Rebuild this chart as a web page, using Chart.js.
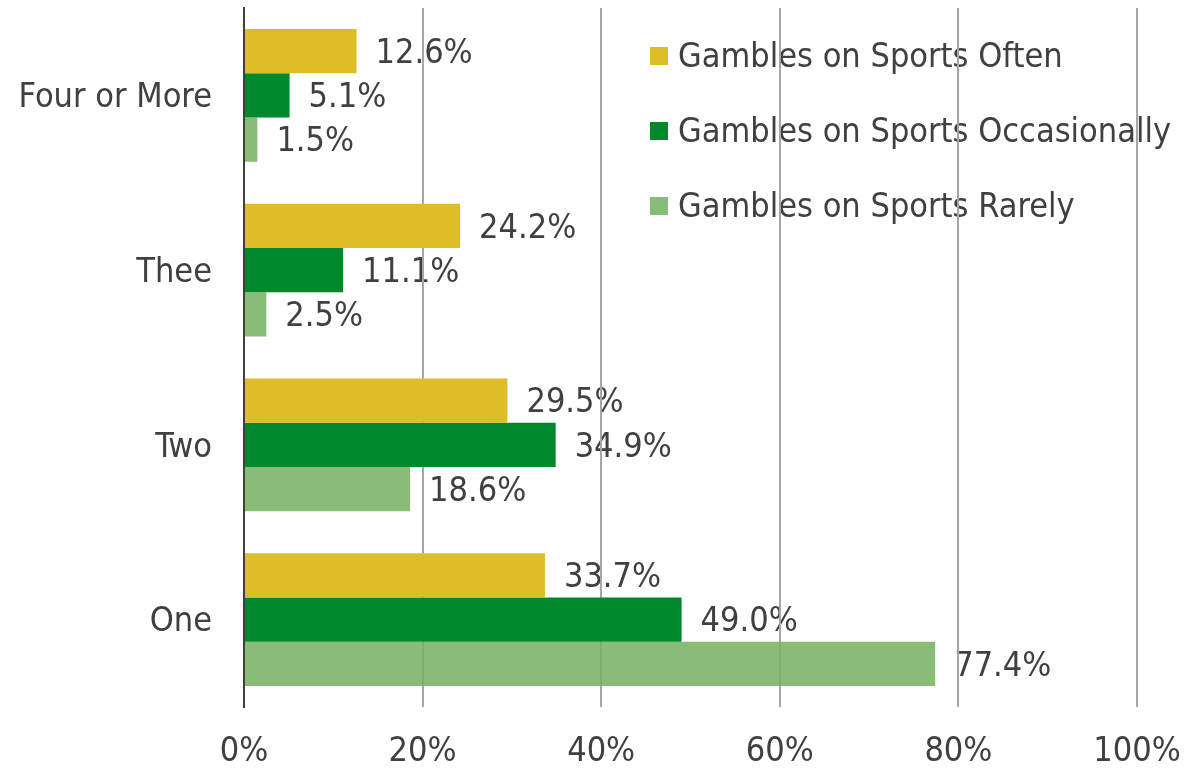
<!DOCTYPE html>
<html>
<head>
<meta charset="utf-8">
<script src="https://cdn.jsdelivr.net/npm/chart.js@4.4.1/dist/chart.umd.min.js"></script>
<style>
  html, body { margin: 0; padding: 0; background: #fff; }
  #wrap { width: 1186px; height: 770px; }
</style>
</head>
<body>
<div id="wrap"><canvas id="barChart"></canvas></div>
<script>
const categories = ['Four or More', 'Thee', 'Two', 'One'];
const seriesNames = ['Gambles on Sports Often', 'Gambles on Sports Occasionally', 'Gambles on Sports Rarely'];
const often = [12.6, 24.2, 29.5, 33.7];
const occasionally = [5.1, 11.1, 34.9, 49.0];
const rarely = [1.5, 2.5, 18.6, 77.4];
const xTicks = [0, 20, 40, 60, 80, 100];

const FONT = '"DejaVu Sans Condensed", "DejaVu Sans", sans-serif';
const FONT_SIZE = 34;
const TEXT = '#404040';

// labels + legend are painted before the grid, like the original (grid runs over the text)
const underlayPlugin = {
    id: 'underlay',
    beforeDraw(chart) {
        const ctx = chart.ctx;
        ctx.save();
        ctx.font = FONT_SIZE + 'px ' + FONT;
        ctx.fillStyle = TEXT;
        ctx.textBaseline = 'middle';
        ctx.textAlign = 'left';
        chart.data.datasets.forEach((ds, i) => {
            chart.getDatasetMeta(i).data.forEach((bar, j) => {
                ctx.fillText(ds.data[j].toFixed(1) + '%', bar.x + 19, bar.y + 3);
            });
        });

        // legend in the upper right of the plot
        chart.data.datasets.forEach((ds, i) => {
            const y = 56 + i * 75;
            ctx.fillStyle = ds.backgroundColor;
            ctx.fillRect(650, y - 9, 18, 18);
            ctx.fillStyle = TEXT;
            ctx.fillText(ds.label, 678, y + 2);
        });
        ctx.restore();
    }
};

new Chart(document.getElementById('barChart'), {
    type: 'bar',
    data: {
        labels: categories,
        datasets: [{
            label: seriesNames[0],
            data: often,
            backgroundColor: '#DDBE26'
        },
        {
            label: seriesNames[1],
            data: occasionally,
            backgroundColor: '#00882C'
        },
        {
            label: seriesNames[2],
            data: rarely,
            backgroundColor: 'rgba(116, 178, 95, 0.85)'
        }]
    },
    options: {
        indexAxis: 'y',
        responsive: true,
        maintainAspectRatio: false,
        animation: false,
        barPercentage: 1,
        categoryPercentage: 0.76,
        layout: {
            padding: { left: 0, top: 8, right: 49, bottom: 0 }
        },
        plugins: {
            legend: { display: false },
            tooltip: { enabled: false }
        },
        scales: {
            x: {
                min: 0,
                max: 100,
                afterBuildTicks: (axis) => {
                    axis.ticks = xTicks.map(v => ({ value: v }));
                },
                afterFit: (axis) => {
                    axis.height = 63;
                    axis.paddingLeft = 0;
                    axis.paddingRight = 0;
                },
                grid: {
                    color: (c) => c.tick && c.tick.value === 0 ? TEXT : '#A6A6A6',
                    lineWidth: 2,
                    drawTicks: false
                },
                border: { display: false },
                ticks: {
                    padding: 25,
                    color: TEXT,
                    font: { family: FONT, size: FONT_SIZE },
                    callback: (v) => v + '%'
                }
            },
            y: {
                afterFit: (axis) => {
                    axis.width = 244;
                    axis.paddingTop = 0;
                    axis.paddingBottom = 0;
                },
                grid: { display: false, drawTicks: false },
                border: { display: true, color: TEXT, width: 2 },
                ticks: {
                    padding: 32,
                    labelOffset: 3,
                    color: TEXT,
                    font: { family: FONT, size: FONT_SIZE }
                }
            }
        }
    },
    plugins: [underlayPlugin]
});
</script>
</body>
</html>
